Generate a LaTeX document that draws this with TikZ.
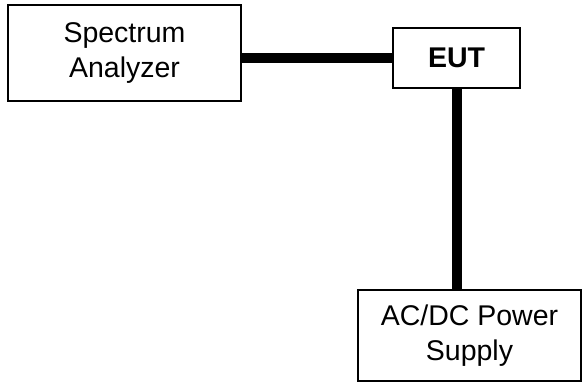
\documentclass[tikz,border=0pt]{standalone}
\usepackage{fontspec}
\setmainfont{Liberation Sans}
\usetikzlibrary{calc}

\begin{document}
\begin{tikzpicture}[x=1pt,y=-1pt,
  unit/.style={draw,line width=1.2pt,align=center,inner sep=0pt,
    font=\fontsize{28.5}{35}\selectfont},
  cable/.style={line width=10pt}]
\useasboundingbox (0,0) rectangle (583,382);

\node [unit,minimum width=233pt,minimum height=96pt] (sa) at (124.5,53) {Spectrum\\Analyzer};
\node [unit,minimum width=127pt,minimum height=60pt,font=\fontsize{28.5}{35}\selectfont\bfseries] (eut) at (456.5,58) {EUT};
\node [unit,minimum width=223pt,minimum height=91pt] (ps) at (469.5,335.5) {AC/DC Power\\Supply};

\draw [cable] (sa.east |- eut.west) -- (eut.west);
\draw [cable] (eut.south) -- (eut.south |- ps.north);
\end{tikzpicture}
\end{document}
